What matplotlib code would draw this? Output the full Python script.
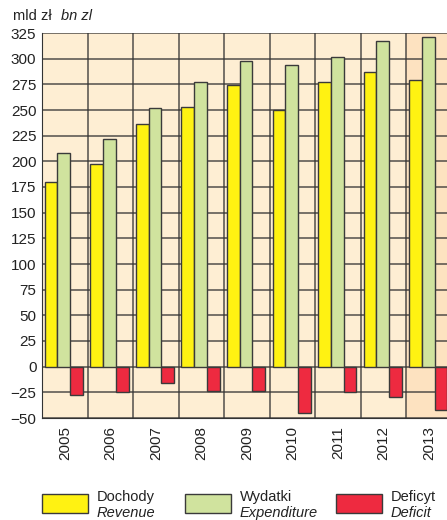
import numpy as np
import matplotlib
matplotlib.use('Agg')
import matplotlib.pyplot as plt
from matplotlib.patches import Rectangle

plt.rcParams['font.family'] = ['Liberation Sans Narrow', 'Liberation Sans', 'DejaVu Sans']

years = ['2005', '2006', '2007', '2008', '2009', '2010', '2011', '2012', '2013']
revenue = [180, 197, 236, 253, 274, 250, 277, 287, 279]
expenditure = [208, 222, 252, 277, 298, 294, 302, 317, 321]
deficit = [-28, -25, -16, -24, -24, -45, -25, -30, -42]

C_REV = '#fff212'
C_EXP = '#d0e39e'
C_DEF = '#ee2a40'
C_BG = '#feeed3'
C_BG13 = '#fde2c0'
EDGE = '#3a3a3a'

fig = plt.figure(figsize=(4.47, 5.2), dpi=100)
ax = fig.add_axes([42 / 447, 1 - 418 / 520, 410 / 447, 385 / 520])
ax.set_facecolor(C_BG)

n = len(years)
x = np.arange(n)
w = 0.28
ax.axvspan(n - 1, n, color=C_BG13, zorder=0, lw=0)

for vals, col, off in [(revenue, C_REV, 0.20), (expenditure, C_EXP, 0.48),
                       (deficit, C_DEF, 0.76)]:
    ax.bar(x + off, vals, width=w, color=col, edgecolor=EDGE, lw=1.0, zorder=3)

ax.set_xlim(0, n)
ax.set_ylim(-50, 325)
ax.set_yticks(np.arange(-50, 326, 25))
ax.set_xticks(np.arange(n + 1))
ax.set_xticklabels([])
ax.grid(True, color='#333333', lw=1.1, alpha=0.85, zorder=1)
ax.set_axisbelow(True)
for s in ['top', 'right']:
    ax.spines[s].set_visible(False)
ax.spines['left'].set_color('#333333')
ax.spines['bottom'].set_color('#333333')
ax.tick_params(axis='both', length=0, labelsize=11, colors='#222222', pad=4)

for i, yr in enumerate(years):
    ax.text(i + 0.5, -58, yr, rotation=90, ha='center', va='top',
            fontsize=11, color='#222222')

fig.text(13 / 447, 1 - 16 / 520, 'mld zł', fontsize=10.5, va='center', color='#222222')
fig.text(61 / 447, 1 - 16 / 520, 'bn zl', fontsize=10.5, style='italic',
         va='center', color='#222222')

legend = [(C_REV, 'Dochody', 'Revenue', 42), (C_EXP, 'Wydatki', 'Expenditure', 185),
          (C_DEF, 'Deficyt', 'Deficit', 336)]
for col, pl, en, px in legend:
    fig.patches.append(Rectangle((px / 447, 1 - 513 / 520), 46 / 447, 19 / 520,
                                 transform=fig.transFigure, facecolor=col,
                                 edgecolor=EDGE, lw=1.0))
    fig.text((px + 55) / 447, 1 - 497 / 520, pl, fontsize=10.5, va='center', color='#222222')
    fig.text((px + 55) / 447, 1 - 513 / 520, en, fontsize=10.5, style='italic',
             va='center', color='#222222')

fig.savefig('out.png', dpi=100, facecolor='white')
